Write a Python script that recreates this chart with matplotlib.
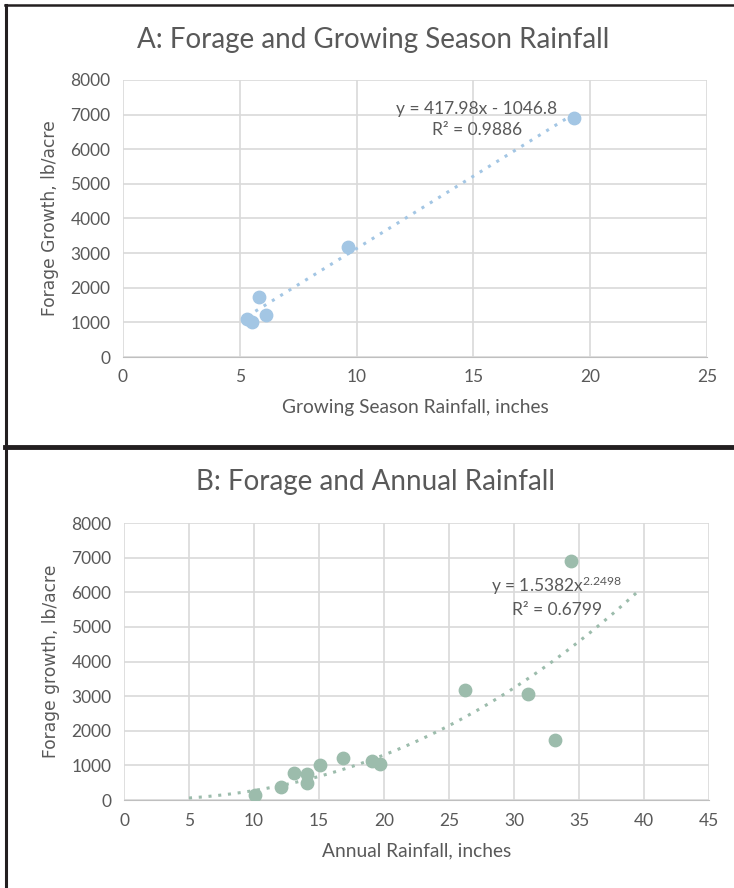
import numpy as np
import matplotlib.pyplot as plt
from matplotlib.lines import Line2D

# Panel A: growing season rainfall vs forage
season_rain = [5.31, 5.52, 5.82, 6.12, 9.63, 19.31]
season_forage = [1100, 1010, 1730, 1215, 3180, 6910]

# Panel B: annual rainfall vs forage
annual_rain = [10.08, 12.05, 13.05, 14.08, 14.08, 15.08, 16.87, 19.05, 19.69,
               26.2, 31.08, 33.15, 34.4]
annual_forage = [145, 365, 770, 740, 490, 1010, 1225, 1120, 1030,
                 3180, 3055, 1725, 6915]

# Excel trendline coefficients as printed on the chart
lin_a, lin_b = 417.98, -1046.8
pow_a, pow_b = 1.5382, 2.2498
pow_xmin, pow_xmax = 5, 39.5

txt = '#595959'
grid = '#d9d9d9'
blue = '#a3c6e4'
green = '#9cbcac'

plt.rcParams['mathtext.fontset'] = 'custom'
plt.rcParams['mathtext.rm'] = 'Lato'
plt.rcParams['mathtext.it'] = 'Lato'

fig = plt.figure(figsize=(7.34, 8.88), dpi=100)
W, H = 734, 888

def style(ax, xmax, xstep, xlabel, ylabel):
    ax.set_xlim(0, xmax)
    ax.set_ylim(0, 8000)
    ax.set_xticks(np.arange(0, xmax + 1, xstep))
    ax.set_yticks(np.arange(0, 8001, 1000))
    ax.grid(True, color=grid, lw=1.2)
    ax.set_axisbelow(True)
    for s in ['top', 'right', 'left']:
        ax.spines[s].set_visible(False)
    ax.spines['bottom'].set_color('#bfbfbf')
    ax.tick_params(length=0, labelsize=12.5, colors=txt, pad=9)
    for lab in ax.get_xticklabels() + ax.get_yticklabels():
        lab.set_fontfamily('Lato')
    ax.set_xlabel(xlabel, fontsize=13.8, color=txt, family='Lato', labelpad=10)
    ax.set_ylabel(ylabel, fontsize=12.3, color=txt, family='DejaVu Sans', labelpad=8)

# ---- Panel A ----
axA = fig.add_axes([123 / W, 1 - 357 / H, (707 - 123) / W, (357 - 80) / H])
style(axA, 25, 5, 'Growing Season Rainfall, inches', 'Forage Growth, lb/acre')
xa = np.array([min(season_rain), max(season_rain)])
axA.plot(xa, lin_a * xa + lin_b, ls=(0, (1, 2.2)), lw=2.2, color=blue)
axA.scatter(season_rain, season_forage, s=80, color=blue, zorder=3)
axA.text(15.15, 6860, 'y = 417.98x - 1046.8\nR² = 0.9886', ha='center', va='center',
         multialignment='center', fontsize=12.5, color=txt, family='Lato',
         linespacing=1.45)
fig.text(373 / W, 1 - 40 / H, 'A: Forage and Growing Season Rainfall', ha='center',
         va='center', fontsize=20, color=txt, family='Lato')

# ---- Panel B ----
axB = fig.add_axes([124 / W, 1 - 800 / H, (709 - 124) / W, (800 - 523) / H])
style(axB, 45, 5, 'Annual Rainfall, inches', 'Forage growth, lb/acre')
xb = np.linspace(pow_xmin, pow_xmax, 200)
axB.plot(xb, pow_a * xb ** pow_b, ls=(0, (1, 2.2)), lw=2.2, color=green)
axB.scatter(annual_rain, annual_forage, s=80, color=green, zorder=3)
axB.text(33.3, 5880, r'y = 1.5382x$^{2.2498}$' + '\n' + 'R² = 0.6799', ha='center',
         va='center', multialignment='center', fontsize=12.5, color=txt,
         family='Lato', linespacing=1.4)
fig.text(375 / W, 1 - 482 / H, 'B: Forage and Annual Rainfall', ha='center',
         va='center', fontsize=20, color=txt, family='Lato')

# panel borders
bc = '#231f20'
fig.add_artist(Line2D([5 / W, 1], [1 - 5 / H, 1 - 5 / H], color=bc, lw=1.8))
fig.add_artist(Line2D([5 / W, 1], [1 - 447 / H, 1 - 447 / H], color=bc, lw=3.5))
fig.add_artist(Line2D([6 / W, 6 / W], [0, 1 - 5 / H], color=bc, lw=2.2))

fig.savefig('out.png', dpi=100)
